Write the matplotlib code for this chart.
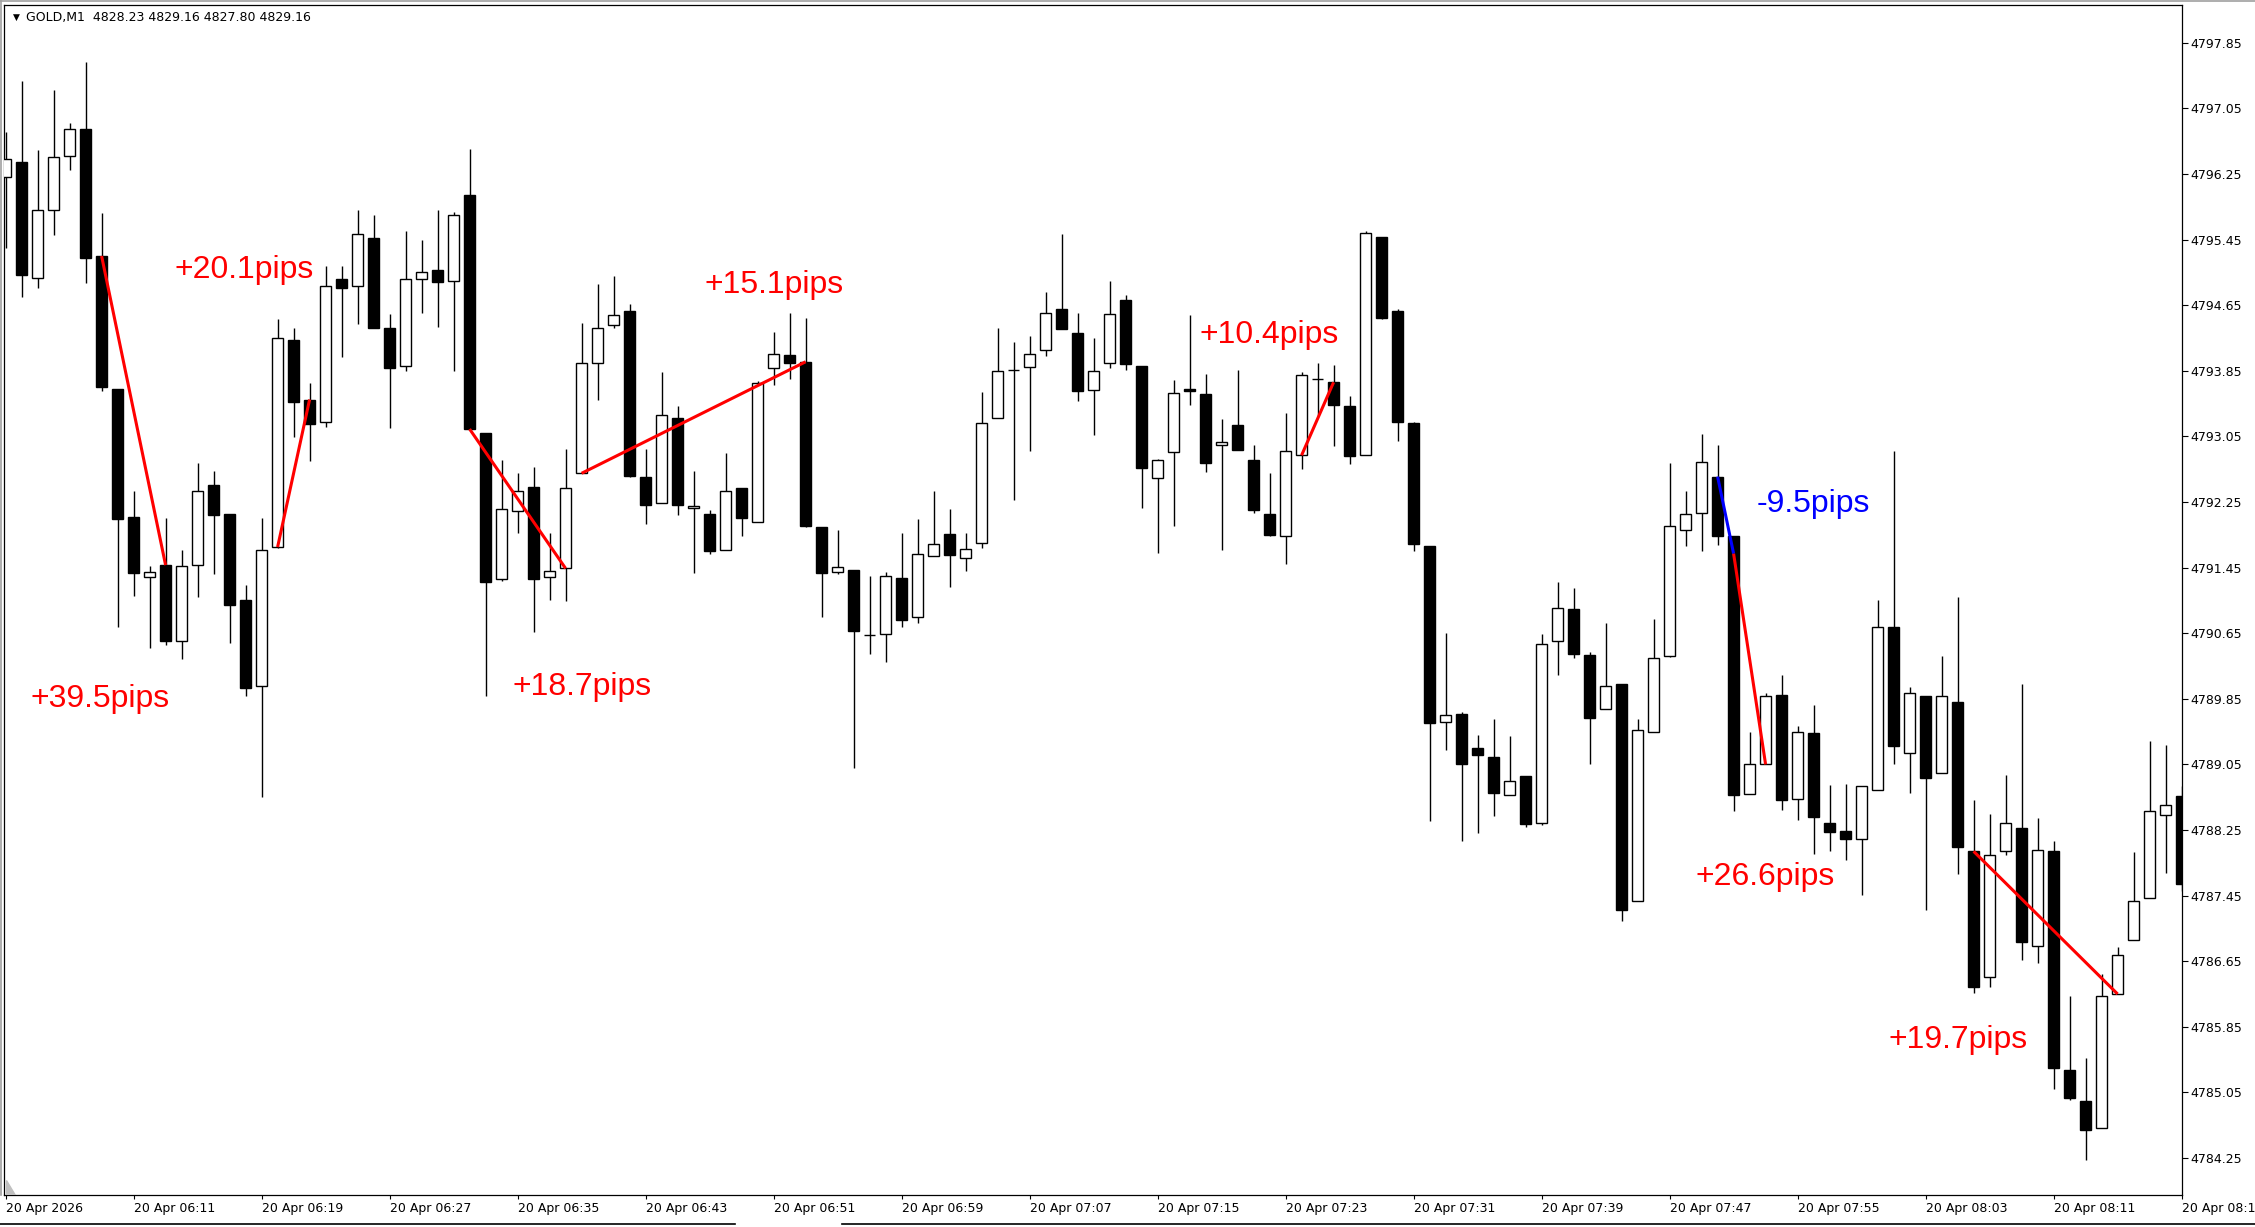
import matplotlib
matplotlib.use('Agg')
import matplotlib.pyplot as plt
from matplotlib.lines import Line2D
from matplotlib.patches import Polygon
import numpy as np

# GOLD M1 candles, 20 Apr 2026 06:03 .. 08:19
opens = [4796.21, 4796.40, 4794.98, 4795.81, 4796.47, 4796.80, 4795.25, 4793.63, 4792.07, 4791.34,
         4791.48, 4790.55, 4791.48, 4792.46, 4792.10, 4791.06, 4790.01, 4791.70, 4794.23, 4793.50,
         4793.22, 4794.97, 4794.88, 4795.47, 4794.37, 4793.91, 4794.97, 4795.08, 4794.95, 4795.99,
         4793.09, 4791.31, 4792.14, 4792.43, 4791.34, 4791.44, 4792.60, 4793.94, 4794.41, 4794.58,
         4792.56, 4792.24, 4793.28, 4792.18, 4792.10, 4791.66, 4792.42, 4792.01, 4793.89, 4794.04,
         4793.96, 4791.95, 4791.40, 4791.42, 4790.63, 4790.64, 4791.32, 4790.85, 4791.59, 4791.86,
         4791.57, 4791.75, 4793.28, 4793.86, 4793.90, 4794.10, 4794.60, 4794.31, 4793.62, 4793.94,
         4794.71, 4793.91, 4792.54, 4792.86, 4793.63, 4793.57, 4792.94, 4793.19, 4792.76, 4792.10,
         4791.83, 4792.82, 4793.75, 4793.71, 4793.42, 4792.82, 4795.48, 4794.58, 4793.21, 4791.71,
         4789.57, 4789.67, 4789.25, 4789.14, 4788.68, 4788.91, 4788.33, 4790.55, 4790.94, 4790.39,
         4789.73, 4790.03, 4787.38, 4789.45, 4790.37, 4791.91, 4792.12, 4792.56, 4791.83, 4788.69,
         4789.05, 4789.90, 4788.63, 4789.43, 4788.33, 4788.24, 4788.14, 4788.74, 4790.72, 4789.19,
         4789.88, 4788.95, 4789.81, 4787.99, 4786.46, 4787.99, 4788.27, 4786.84, 4787.99, 4785.32,
         4784.95, 4784.62, 4786.25, 4786.91, 4787.42, 4788.43, 4788.66]
highs = [4796.76, 4797.38, 4796.54, 4797.27, 4796.87, 4797.61, 4795.77, 4793.63, 4792.38, 4791.47,
         4792.05, 4791.67, 4792.72, 4792.63, 4792.10, 4791.24, 4792.05, 4794.48, 4794.37, 4793.70,
         4795.13, 4795.13, 4795.81, 4795.75, 4794.54, 4795.55, 4795.45, 4795.81, 4795.79, 4796.56,
         4793.09, 4792.76, 4792.60, 4792.68, 4791.87, 4792.90, 4794.43, 4794.91, 4795.01, 4794.67,
         4792.90, 4793.83, 4793.42, 4792.63, 4792.15, 4792.85, 4792.42, 4793.73, 4794.32, 4794.56,
         4794.49, 4791.95, 4791.91, 4791.42, 4791.35, 4791.40, 4791.87, 4792.04, 4792.39, 4792.16,
         4791.87, 4793.59, 4794.37, 4794.20, 4794.28, 4794.81, 4795.52, 4794.56, 4794.25, 4794.95,
         4794.77, 4793.91, 4792.78, 4793.74, 4794.53, 4793.81, 4793.26, 4793.86, 4792.94, 4792.60,
         4793.34, 4793.84, 4793.94, 4793.92, 4793.54, 4795.55, 4795.48, 4794.60, 4793.23, 4791.71,
         4790.65, 4789.69, 4789.41, 4789.60, 4789.40, 4788.91, 4790.64, 4791.27, 4791.20, 4790.42,
         4790.77, 4790.03, 4789.60, 4790.82, 4792.73, 4792.38, 4793.08, 4792.94, 4791.83, 4789.45,
         4789.92, 4790.14, 4789.52, 4789.78, 4788.80, 4788.81, 4788.79, 4791.05, 4792.87, 4789.99,
         4789.88, 4790.37, 4791.09, 4788.62, 4788.44, 4788.92, 4790.03, 4788.40, 4788.12, 4786.23,
         4785.47, 4786.49, 4786.82, 4787.98, 4789.34, 4789.29, 4788.79]
lows = [4795.35, 4794.75, 4794.86, 4795.51, 4796.30, 4794.92, 4793.60, 4790.73, 4791.10, 4790.47,
        4790.51, 4790.34, 4791.09, 4791.37, 4790.53, 4789.88, 4788.65, 4791.69, 4793.04, 4792.75,
        4793.16, 4794.02, 4794.42, 4794.37, 4793.15, 4793.85, 4794.55, 4794.38, 4793.85, 4793.14,
        4789.88, 4791.29, 4791.87, 4790.66, 4791.06, 4791.04, 4792.60, 4793.50, 4794.37, 4792.56,
        4791.98, 4792.24, 4792.09, 4791.38, 4791.61, 4791.66, 4791.83, 4792.01, 4793.68, 4793.75,
        4791.94, 4790.85, 4791.37, 4789.01, 4790.40, 4790.30, 4790.72, 4790.77, 4791.59, 4791.21,
        4791.41, 4791.69, 4793.28, 4792.28, 4792.87, 4794.03, 4794.36, 4793.48, 4793.07, 4793.89,
        4793.86, 4792.18, 4791.63, 4791.96, 4793.43, 4792.61, 4791.67, 4792.88, 4792.11, 4791.84,
        4791.50, 4792.65, 4793.30, 4792.93, 4792.71, 4792.82, 4794.48, 4793.00, 4791.65, 4788.36,
        4789.23, 4788.12, 4788.21, 4788.42, 4788.68, 4788.29, 4788.31, 4790.14, 4790.35, 4789.05,
        4789.73, 4787.14, 4787.38, 4789.45, 4790.36, 4791.71, 4791.65, 4791.72, 4788.48, 4788.69,
        4789.05, 4788.50, 4788.37, 4787.96, 4787.99, 4787.88, 4787.46, 4788.74, 4789.06, 4788.70,
        4787.28, 4788.95, 4787.71, 4786.26, 4786.34, 4787.94, 4786.67, 4786.63, 4785.09, 4784.96,
        4784.23, 4784.62, 4786.25, 4786.91, 4787.42, 4787.73, 4787.51]
closes = [4796.43, 4795.02, 4795.81, 4796.46, 4796.80, 4795.22, 4793.65, 4792.04, 4791.38, 4791.40,
          4790.55, 4791.47, 4792.39, 4792.09, 4791.00, 4789.98, 4791.67, 4794.25, 4793.47, 4793.20,
          4794.88, 4794.86, 4795.52, 4794.37, 4793.88, 4794.97, 4795.05, 4794.93, 4795.75, 4793.14,
          4791.27, 4792.16, 4792.38, 4791.31, 4791.41, 4792.42, 4793.94, 4794.37, 4794.53, 4792.57,
          4792.21, 4793.31, 4792.21, 4792.20, 4791.65, 4792.38, 4792.05, 4793.70, 4794.05, 4793.95,
          4791.96, 4791.38, 4791.46, 4790.68, 4790.63, 4791.35, 4790.81, 4791.61, 4791.74, 4791.60,
          4791.68, 4793.21, 4793.85, 4793.86, 4794.05, 4794.55, 4794.36, 4793.60, 4793.85, 4794.54,
          4793.93, 4792.66, 4792.76, 4793.58, 4793.60, 4792.73, 4792.98, 4792.88, 4792.15, 4791.85,
          4792.87, 4793.80, 4793.75, 4793.43, 4792.81, 4795.53, 4794.50, 4793.22, 4791.74, 4789.55,
          4789.65, 4789.05, 4789.16, 4788.70, 4788.85, 4788.32, 4790.52, 4790.96, 4790.40, 4789.61,
          4790.00, 4787.28, 4789.47, 4790.35, 4791.96, 4792.10, 4792.74, 4791.84, 4788.68, 4789.05,
          4789.88, 4788.61, 4789.44, 4788.41, 4788.23, 4788.14, 4788.79, 4790.72, 4789.28, 4789.92,
          4788.88, 4789.88, 4788.04, 4786.34, 4787.94, 4788.33, 4786.88, 4788.01, 4785.35, 4784.98,
          4784.59, 4786.23, 4786.73, 4787.39, 4788.48, 4788.55, 4787.59]

tick_bars = list(range(0, 137, 8))
tick_labels = ['20 Apr 2026', '20 Apr 06:11', '20 Apr 06:19', '20 Apr 06:27', '20 Apr 06:35',
               '20 Apr 06:43', '20 Apr 06:51', '20 Apr 06:59', '20 Apr 07:07', '20 Apr 07:15',
               '20 Apr 07:23', '20 Apr 07:31', '20 Apr 07:39', '20 Apr 07:47', '20 Apr 07:55',
               '20 Apr 08:03', '20 Apr 08:11', '20 Apr 08:19']
price_ticks = [4797.85, 4797.05, 4796.25, 4795.45, 4794.65, 4793.85, 4793.05, 4792.25, 4791.45,
               4790.65, 4789.85, 4789.05, 4788.25, 4787.45, 4786.65, 4785.85, 4785.05, 4784.25]

# trade lines: (bar from, price from, bar to, price to, colour)
trades = [(6, 4795.25, 10, 4791.48, 'red'),
          (17, 4791.70, 19, 4793.50, 'red'),
          (29, 4793.14, 35, 4791.44, 'red'),
          (36, 4792.60, 50, 4793.96, 'red'),
          (81, 4792.82, 83, 4793.71, 'red'),
          (107, 4792.56, 108, 4791.62, 'blue'),
          (108, 4791.62, 110, 4789.05, 'red'),
          (123, 4787.99, 132, 4786.25, 'red')]
pip_labels = ['+39.5pips', '+20.1pips', '+18.7pips', '+15.1pips', '+10.4pips',
              '-9.5pips', '+26.6pips', '+19.7pips']
pip_colors = ['red', 'red', 'red', 'red', 'red', 'blue', 'red', 'red']
pip_pos = [(5.9, 4789.85), (14.9, 4795.08), (36.0, 4790.00), (48.0, 4794.90),
           (79.0, 4794.29), (113.0, 4792.22), (110.0, 4787.68), (122.0, 4785.69)]

W, H = 2255, 1227
fig = plt.figure(figsize=(W / 100, H / 100), dpi=100)
left, right, top, bottom = 3.5, 2182, 5, 1195
ax = fig.add_axes([left / W, 1 - bottom / H, (right - left) / W, (bottom - top) / H])

o = np.array(opens)
c = np.array(closes)
x = np.arange(len(o))
ax.vlines(x, lows, highs, color='black', lw=1.0, zorder=2)
up = c >= o
ax.bar(x, np.abs(c - o), bottom=np.minimum(o, c), width=0.67,
       color=np.where(up, 'white', 'black'), edgecolor='black', lw=1.0, zorder=3)

for x0, y0, x1, y1, col in trades:
    ax.plot([x0, x1], [y0, y1], color=col, lw=2.2, zorder=4, solid_capstyle='butt')
for txt, col, (tx, ty) in zip(pip_labels, pip_colors, pip_pos):
    ax.text(tx, ty, txt, color=col, fontsize=23, family='Liberation Sans',
            ha='center', va='center', zorder=5)

ax.set_xlim((left - 5.6) / 16, (right - 5.6) / 16)
ax.set_ylim(4797.85 - (bottom - 42.8) / 82.0, 4797.85 + (42.8 - top) / 82.0)

ax.set_xticks(tick_bars)
ax.set_xticklabels(tick_labels, ha='left', fontsize=9, family='DejaVu Sans')
ax.yaxis.tick_right()
ax.set_yticks(price_ticks)
ax.set_yticklabels(['%.2f' % p for p in price_ticks], fontsize=9, family='DejaVu Sans')
ax.tick_params(axis='x', length=3, width=0.8, pad=2)
ax.tick_params(axis='y', length=4, width=0.8, pad=2)
for s in ax.spines.values():
    s.set_linewidth(0.9)

ax.text(0.0058, 0.9895, '\u25bc', transform=ax.transAxes, fontsize=6.5,
        family='DejaVu Sans', va='center', ha='center')
ax.text(0.0103, 0.9895, 'GOLD,M1  4828.23 4829.16 4827.80 4829.16', transform=ax.transAxes,
        fontsize=9, family='DejaVu Sans', va='center', ha='left')

# small grey shift marker at bottom-left and window frame lines
ax.add_patch(Polygon([(5.5 / W, 1 - 1180 / H), (5.5 / W, 1 - 1195 / H), (15 / W, 1 - 1195 / H)],
                     closed=True, transform=fig.transFigure, color='#c0c0c0', zorder=6))
fig.add_artist(Line2D([0, 1], [1 - 1 / H, 1 - 1 / H], color='#a0a0a0', lw=1.2))
fig.add_artist(Line2D([1 / W, 1 / W], [1 - 1195 / H, 1], color='#a0a0a0', lw=1.2))
fig.add_artist(Line2D([0, 735 / W], [1 - 1223.5 / H] * 2, color='black', lw=1.2))
fig.add_artist(Line2D([842 / W, 1], [1 - 1223.5 / H] * 2, color='black', lw=1.2))

fig.savefig('out.png', dpi=100)
